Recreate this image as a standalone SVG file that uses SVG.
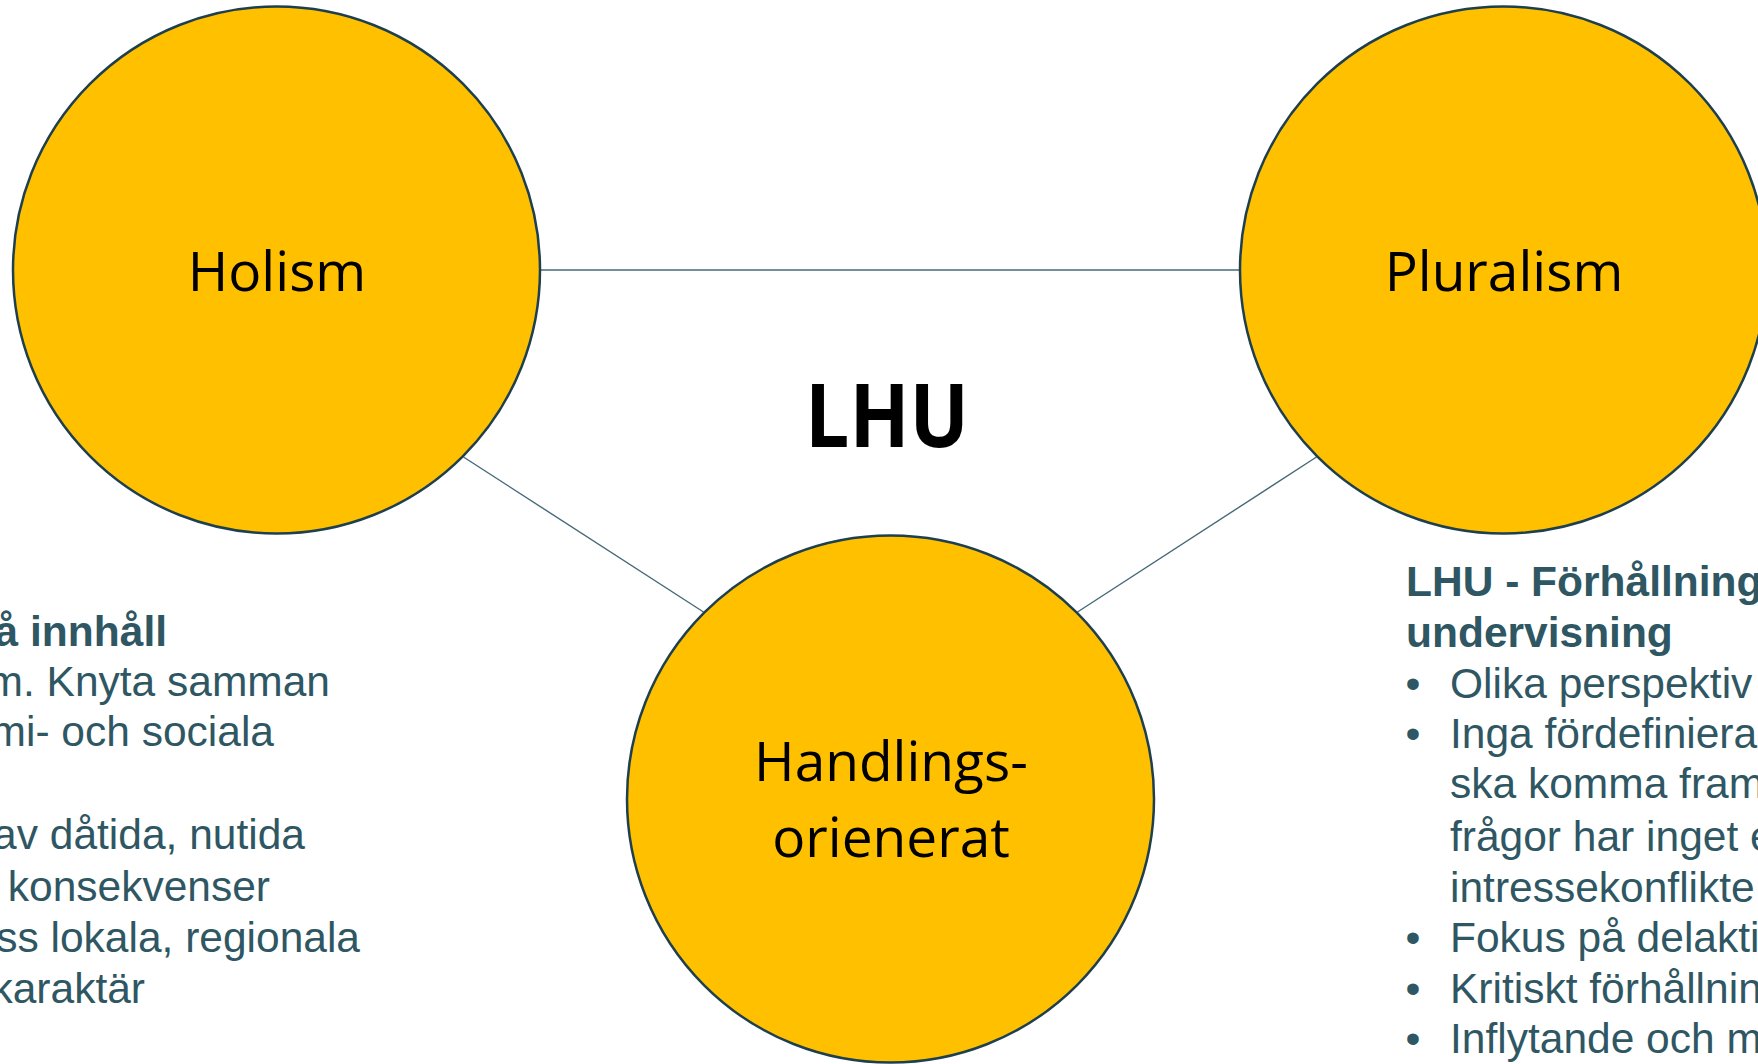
<svg xmlns="http://www.w3.org/2000/svg" width="1758" height="1064" viewBox="0 0 1758 1064">
<style>
.node{fill:#FFC000;stroke:#1E3F4E;stroke-width:2.5}
.lbl{font-family:"Open Sans","Noto Sans",sans-serif;font-size:55px;fill:#000;text-anchor:middle}
.conn{stroke:#46697A;stroke-width:1.4;fill:none}
.body{font-family:"Liberation Sans",Arial,sans-serif;font-size:42.5px;fill:#2F5763}
.bold{font-weight:bold}
.end{text-anchor:end}
.bul{text-anchor:middle}
</style>
<rect width="1758" height="1064" fill="#FFFFFF"/>
<g id="connectors">
<line class="conn" x1="541" y1="270" x2="1240" y2="270"/>
<line class="conn" x1="463.5" y1="457" x2="703.5" y2="612"/>
<line class="conn" x1="1316.5" y1="457" x2="1077.5" y2="612"/>
</g>
<g id="holism">
<circle class="node" cx="276.5" cy="270" r="263.5"/>
<text class="lbl" x="277" y="291">Holism</text>
</g>
<g id="pluralism">
<circle class="node" cx="1503.5" cy="270" r="263.5"/>
<text class="lbl" x="1504" y="291">Pluralism</text>
</g>
<g id="handlingsorienterat">
<circle class="node" cx="890.5" cy="799" r="263.5"/>
<text class="lbl" x="891" y="781">Handlings-</text>
<text class="lbl" x="891" y="857">orienerat</text>
</g>
<g id="lhu">
<text x="887" y="447" font-family="'Open Sans','Noto Sans',sans-serif" font-weight="bold" font-size="87" fill="#000" text-anchor="middle" textLength="164" lengthAdjust="spacingAndGlyphs">LHU</text>
</g>
<g id="left-text" class="body">
<text class="bold end" x="167" y="646">å innhåll</text>
<text class="end" x="330" y="696">m. Knyta samman</text>
<text class="end" x="274" y="746">mi- och sociala</text>
<text class="end" x="305" y="849">av dåtida, nutida</text>
<text class="end" x="270" y="901"> konsekvenser</text>
<text class="end" x="360" y="952">ss lokala, regionala</text>
<text class="end" x="145" y="1003">karaktär</text>
</g>
<g id="right-text" class="body">
<text class="bold" x="1406" y="596">LHU - Förhållning</text>
<text class="bold" x="1406" y="647">undervisning</text>
<text class="bul" x="1413" y="698">•</text>
<text x="1450" y="698">Olika perspektiv</text>
<text class="bul" x="1413" y="748">•</text>
<text x="1450" y="748">Inga fördefiniera</text>
<text x="1450" y="798">ska komma fram</text>
<text x="1450" y="851">frågor har inget e</text>
<text x="1450" y="902">intressekonflikte</text>
<text class="bul" x="1413" y="952">•</text>
<text x="1450" y="952">Fokus på delakti</text>
<text class="bul" x="1413" y="1003">•</text>
<text x="1450" y="1003">Kritiskt förhållnin</text>
<text class="bul" x="1413" y="1053">•</text>
<text x="1450" y="1053">Inflytande och m</text>
</g>
</svg>
